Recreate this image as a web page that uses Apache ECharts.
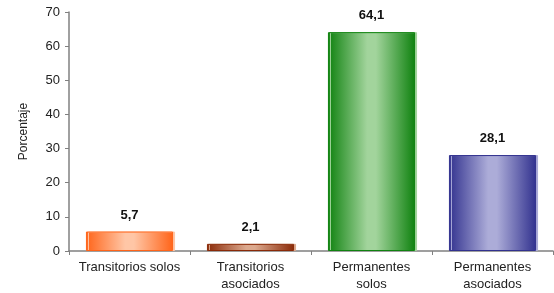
<!DOCTYPE html>
<html>
<head>
<meta charset="utf-8">
<script src="https://cdn.jsdelivr.net/npm/echarts@6/dist/echarts.min.js"></script>
<style>
  html, body { margin: 0; padding: 0; background: #fff; }
  #chart { width: 554px; height: 293px; }
</style>
</head>
<body>
<div id="chart"></div>
<script>
    var categories = ['Transitorios solos', 'Transitorios\nasociados', 'Permanentes\nsolos', 'Permanentes\nasociados'];
    var values = [5.7, 2.1, 64.1, 28.1];
    // colores: oscuro del borde, claro del centro
    var darkColors = ['#ff6419', '#8a2a08', '#0f820f', '#32328f'];
    var lightColors = ['#ffc6a6', '#dca98e', '#a2d49c', '#acacd8'];

    function barColor(i) {
        return new echarts.graphic.LinearGradient(0, 0, 1, 0, [
            { offset: 0, color: darkColors[i] },
            { offset: 0.45, color: lightColors[i] },
            { offset: 0.55, color: lightColors[i] },
            { offset: 1, color: darkColors[i] }
        ]);
    }

    var data = values.map(function (v, i) {
        return {
            value: v,
            itemStyle: {
                color: barColor(i),
                borderColor: darkColors[i],
                borderWidth: 1,
                shadowColor: lightColors[i],
                shadowOffsetX: 2,
                shadowOffsetY: 0,
                shadowBlur: 0
            }
        };
    });

    var font = 'Liberation Sans, Arial, sans-serif';
    var chart = echarts.init(document.getElementById('chart'));
    chart.setOption({
        animation: false,
        grid: { left: 69, right: 1, top: 12, bottom: 40 },
        xAxis: {
            type: 'category',
            data: categories,
            axisLine: { lineStyle: { color: '#808080', width: 1.5 } },
            axisTick: { show: true, length: 4, lineStyle: { color: '#808080' } },
            axisLabel: {
                color: '#222',
                fontFamily: font,
                fontSize: 13,
                lineHeight: 17,
                margin: 8,
                interval: 0
            }
        },
        yAxis: {
            type: 'value',
            min: 0,
            max: 70,
            interval: 10,
            name: 'Porcentaje',
            nameLocation: 'middle',
            nameGap: 39,
            nameTextStyle: { color: '#222', fontSize: 12, fontFamily: font },
            axisLine: { show: true, lineStyle: { color: '#808080', width: 1.5 } },
            axisTick: { show: true, length: 4, lineStyle: { color: '#808080' } },
            splitLine: { show: false },
            axisLabel: {
                color: '#222',
                fontFamily: font,
                fontSize: 13,
                margin: 9
            }
        },
        series: [{
            type: 'bar',
            data: data,
            barWidth: '72%',
            label: {
                show: true,
                position: 'top',
                distance: 10,
                color: '#111',
                fontWeight: 'bold',
                fontSize: 13,
                fontFamily: font,
                formatter: function (p) { return String(p.value).replace('.', ','); }
            }
        }]
    });
</script>
</body>
</html>
